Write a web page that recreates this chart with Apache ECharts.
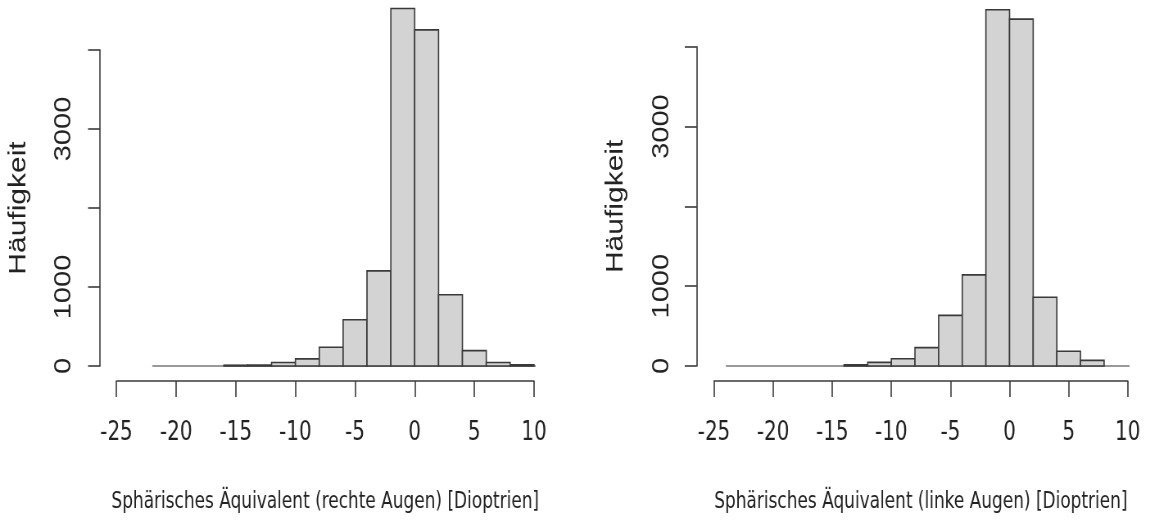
<!DOCTYPE html>
<html>
<head>
<meta charset="utf-8">
<script src="https://cdn.jsdelivr.net/npm/echarts@6/dist/echarts.min.js"></script>
<style>
  html, body { margin: 0; padding: 0; background: #fff; overflow: hidden; }
  /* R-Grafik war horizontal gestaucht -> Canvas breiter zeichnen und zusammenschieben */
  #chart { width: 1410px; height: 524px; transform: scaleX(0.8191); transform-origin: 0 0; }
</style>
</head>
<body>
<div id="chart"></div>
<script>
// Klassengrenzen (2 dpt breit) und Häufigkeiten
var rechteBreaks = [-16, -14, -12, -10, -8, -6, -4, -2, 0, 2, 4, 6, 8, 10];
var rechteCounts = [10, 12, 45, 90, 238, 585, 1204, 4525, 4255, 902, 195, 45, 15];
var rechteRange = [-22, 11.4]; // Min/Max der Messwerte (graue Nulllinie)

var linkeBreaks = [-14, -12, -10, -8, -6, -4, -2, 0, 2, 4, 6, 8];
var linkeCounts = [15, 45, 90, 230, 634, 1141, 4462, 4346, 862, 185, 70];
var linkeRange = [-24, 11.45];

var xTickMin = -25, xTickMax = 10, xTickStep = 5;
var yTickMax = 4000, yTickStep = 1000;
var yLabelShown = [0, 1000, 3000];

var titleRechts = 'Sphärisches Äquivalent (rechte Augen) [Dioptrien]';
var titleLinks = 'Sphärisches Äquivalent (linke Augen) [Dioptrien]';
var yTitle = 'Häufigkeit';

var narrowFont = '"Liberation Sans Narrow", "Arial Narrow", "DejaVu Sans Condensed", "Liberation Sans", sans-serif';
var plainFont = '"Liberation Sans", Arial, sans-serif';
var ink = '#3a3a3a';
var textInk = '#222';

function histSeries(idx, breaks, counts) {
  var data = [];
  for (var i = 0; i < counts.length; i++) {
    data.push([breaks[i], breaks[i + 1], counts[i]]);
  }
  return {
    type: 'custom',
    xAxisIndex: idx,
    yAxisIndex: idx,
    z: 3,
    clip: false,
    data: data,
    encode: { x: [0, 1], y: 2 },
    renderItem: function (params, api) {
      var top = api.coord([api.value(0), api.value(2)]);
      var bottom = api.coord([api.value(1), 0]);
      return {
        type: 'rect',
        shape: { x: top[0], y: top[1], width: bottom[0] - top[0], height: bottom[1] - top[1] },
        style: { fill: '#d3d3d3', stroke: ink, lineWidth: 1.6 }
      };
    }
  };
}

function baseSeries(idx, range) {
  return {
    type: 'line',
    xAxisIndex: idx,
    yAxisIndex: idx,
    z: 2,
    clip: false,
    symbol: 'none',
    data: [[range[0], 0], [range[1], 0]],
    lineStyle: { color: '#999', width: 2 }
  };
}

function xAxisFor(idx, name) {
  return {
    type: 'value',
    gridIndex: idx,
    min: xTickMin,
    max: xTickMax,
    interval: xTickStep,
    offset: 15,
    axisLine: { show: true, onZero: false, lineStyle: { color: ink, width: 1.6 } },
    axisTick: { show: true, length: 16, lineStyle: { color: ink, width: 1.6 } },
    axisLabel: { margin: 38, fontSize: 27, fontFamily: narrowFont, color: textInk },
    splitLine: { show: false },
    name: name,
    nameLocation: 'middle',
    nameGap: 110,
    nameTextStyle: { fontSize: 23, fontFamily: narrowFont, color: textInk }
  };
}

function yAxisFor(idx, offset, margin) {
  return {
    type: 'value',
    gridIndex: idx,
    min: 0,
    max: yTickMax,
    interval: yTickStep,
    offset: offset,
    axisLine: { show: true, onZero: false, lineStyle: { color: ink, width: 1.6 } },
    axisTick: { show: true, length: 14.6, lineStyle: { color: ink, width: 1.6 } },
    axisLabel: {
      rotate: 90,
      margin: margin,
      fontSize: 29,
      fontFamily: plainFont,
      color: textInk,
      formatter: function (v) {
        return yLabelShown.indexOf(v) >= 0 ? String(v) : '';
      }
    },
    splitLine: { show: false },
    name: yTitle,
    nameLocation: 'middle',
    nameRotate: 90,
    nameGap: 84,
    nameTextStyle: { fontSize: 30, fontFamily: plainFont, color: textInk }
  };
}

var myChart = echarts.init(document.getElementById('chart'));
var option = {
  animation: false,
  backgroundColor: '#fff',
  grid: [
    { left: 142.2, top: 50, width: 509.7, height: 316 },
    { left: 871.7, top: 46.7, width: 505.1, height: 319.3 }
  ],
  xAxis: [xAxisFor(0, titleRechts), xAxisFor(1, titleLinks)],
  yAxis: [yAxisFor(0, 20.1, 30), yAxisFor(1, 21.1, 28)],
  series: [
    baseSeries(0, rechteRange),
    histSeries(0, rechteBreaks, rechteCounts),
    baseSeries(1, linkeRange),
    histSeries(1, linkeBreaks, linkeCounts)
  ]
};
option && myChart.setOption(option);
</script>
</body>
</html>
